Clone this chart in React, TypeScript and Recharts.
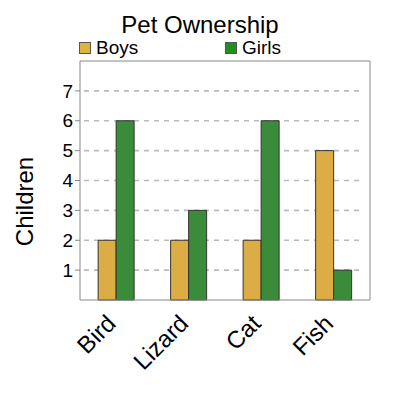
import { Bar, BarChart, CartesianGrid, XAxis, YAxis } from "recharts";

const pets = ["Bird", "Lizard", "Cat", "Fish"];
const boys = [2, 2, 2, 5];
const girls = [6, 3, 6, 1];
const yTicks = [1, 2, 3, 4, 5, 6, 7];

const data = pets.map((pet, i) => ({ pet, boys: boys[i], girls: girls[i] }));

const FONT = "'Liberation Sans', Arial, sans-serif";

function PetTick({ x, y, payload }: any) {
  const ax = x + 1;
  const ay = y + 17;
  return (
    <text
      x={ax}
      y={ay}
      transform={`rotate(-45, ${ax}, ${ay})`}
      textAnchor="end"
      fontSize={24}
      fontFamily={FONT}
      fill="#000"
    >
      {payload.value}
    </text>
  );
}

function ChildrenLabel({ viewBox }: any) {
  const x = viewBox.x + 33;
  const y = viewBox.y + viewBox.height / 2 + 21;
  return (
    <text
      x={x}
      y={y}
      transform={`rotate(-90, ${x}, ${y})`}
      textAnchor="middle"
      fontSize={24}
      fontFamily={FONT}
      fill="#000"
    >
      Children
    </text>
  );
}

const legendItems = [
  { name: "Boys", color: "#e0b23e", left: 79 },
  { name: "Girls", color: "#1f8f1f", left: 225 },
];

export default function App() {
  return (
    <div style={{ position: "absolute", left: 0, top: 0, width: 400, height: 400, background: "#fff" }}>
      <div
        style={{
          position: "absolute",
          top: 11,
          left: 0,
          width: 400,
          textAlign: "center",
          fontFamily: FONT,
          fontSize: 24,
          color: "#000",
        }}
      >
        Pet Ownership
      </div>
      {legendItems.map((it) => (
        <div
          key={it.name}
          style={{
            position: "absolute",
            left: it.left,
            top: 37,
            display: "flex",
            alignItems: "center",
            fontFamily: FONT,
            fontSize: 19,
            color: "#000",
          }}
        >
          <span
            style={{
              display: "inline-block",
              width: 10,
              height: 10,
              background: it.color,
              border: "1px solid #555",
              marginRight: 5,
            }}
          />
          {it.name}
        </div>
      ))}
      <BarChart
        width={400}
        height={400}
        data={data}
        margin={{ top: 60, right: 29, bottom: 0, left: 0 }}
        barGap={0}
        barCategoryGap="25%"
      >
        <CartesianGrid
          x={84}
          width={276}
          vertical={false}
          horizontalValues={yTicks}
          stroke="#bbb"
          strokeDasharray="5 5"
          strokeWidth={1.7}
        />
        <XAxis
          dataKey="pet"
          tick={<PetTick />}
          tickLine={false}
          axisLine={{ stroke: "#888" }}
          interval={0}
          height={100}
        />
        <XAxis xAxisId="top" orientation="top" dataKey="pet" tick={false} tickLine={false} axisLine={{ stroke: "#888" }} height={1} />
        <YAxis
          domain={[0, 8]}
          ticks={yTicks}
          interval={0}
          width={80}
          tickSize={5}
          tickLine={{ stroke: "#888" }}
          axisLine={{ stroke: "#888" }}
          tick={{ fill: "#000", fontSize: 19, fontFamily: FONT }}
          label={<ChildrenLabel />}
        />
        <YAxis yAxisId="right" orientation="right" domain={[0, 8]} tick={false} tickLine={false} axisLine={{ stroke: "#888" }} width={1} />
        <Bar dataKey="boys" name="Boys" fill="#dcad45" stroke="#333" strokeWidth={1} isAnimationActive={false} />
        <Bar dataKey="girls" name="Girls" fill="#3a8b3a" stroke="#333" strokeWidth={1} isAnimationActive={false} />
      </BarChart>
    </div>
  );
}
